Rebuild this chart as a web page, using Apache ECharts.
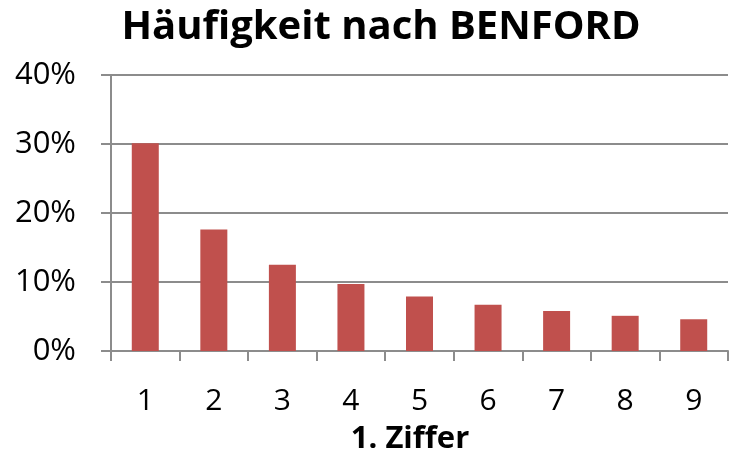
<!DOCTYPE html>
<html>
<head>
<meta charset="utf-8">
<script src="https://cdn.jsdelivr.net/npm/echarts@6/dist/echarts.min.js"></script>
<style>
  html, body { margin: 0; padding: 0; background: #fff; }
  #chart { width: 731px; height: 459px; }
</style>
</head>
<body>
<div id="chart"></div>
<script>
// First-digit frequencies predicted by Benford's law (percent)
const digits = ['1', '2', '3', '4', '5', '6', '7', '8', '9'];
const frequencies = [30.1, 17.6, 12.5, 9.7, 7.9, 6.7, 5.8, 5.1, 4.6];
const yTicks = [0, 10, 20, 30, 40];

const FONT = '"Open Sans", Lato, sans-serif';
const GRID_COLOR = '#8c8c8c';

const chart = echarts.init(document.getElementById('chart'), null, { renderer: 'canvas' });

chart.setOption({
  animation: false,
  backgroundColor: '#ffffff',
  title: [
    {
      text: 'Häufigkeit nach BENFORD',
      left: 376, top: 3,
      textAlign: 'center',
      textStyle: { fontFamily: FONT, fontWeight: 'bold', fontSize: 40, color: '#000' }
    },
    {
      text: '1. Ziffer',
      left: 405, top: 419,
      textAlign: 'center',
      textStyle: { fontFamily: FONT, fontWeight: 'bold', fontSize: 31, color: '#000' }
    }
  ],
  grid: { left: 111, right: 3, top: 75, bottom: 108, containLabel: false },
  xAxis: {
    type: 'category',
    data: digits,
    axisLine: { lineStyle: { color: GRID_COLOR, width: 2 } },
    axisTick: { show: true, length: 10, lineStyle: { color: GRID_COLOR, width: 2 } },
    axisLabel: { fontFamily: FONT, fontSize: 30, color: '#000', margin: 35 }
  },
  yAxis: {
    type: 'value',
    min: yTicks[0],
    max: yTicks[yTicks.length - 1],
    interval: 10,
    axisLine: { show: true, lineStyle: { color: GRID_COLOR, width: 2 } },
    axisTick: { show: true, length: 10, lineStyle: { color: GRID_COLOR, width: 2 } },
    splitLine: { lineStyle: { color: GRID_COLOR, width: 2 } },
    axisLabel: {
      fontFamily: FONT, fontSize: 31, color: '#000', margin: 35,
      formatter: v => v + '%'
    }
  },
  series: [{
    type: 'bar',
    data: frequencies,
    barWidth: 27,
    itemStyle: { color: '#c0504d' }
  }]
});
</script>
</body>
</html>
